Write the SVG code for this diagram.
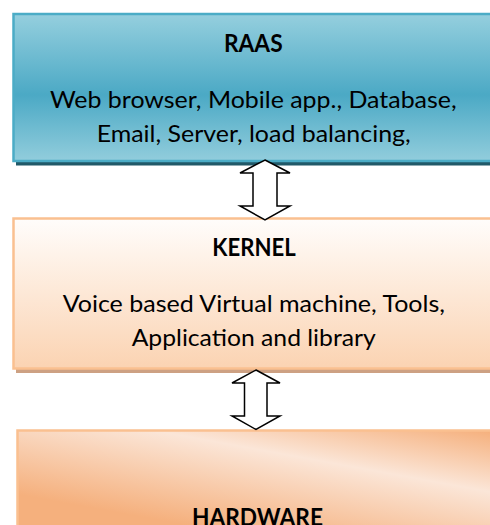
<svg xmlns="http://www.w3.org/2000/svg" width="490" height="525" viewBox="0 0 490 525">
  <defs>
    <linearGradient id="gRaas" x1="0" y1="0" x2="0" y2="1">
      <stop offset="0" stop-color="#95cfde"/>
      <stop offset="0.55" stop-color="#4ba9c5"/>
      <stop offset="1" stop-color="#92cddc"/>
    </linearGradient>
    <linearGradient id="gKernel" x1="0" y1="0" x2="0" y2="1">
      <stop offset="0" stop-color="#fffdfb"/>
      <stop offset="1" stop-color="#fbd3b2"/>
    </linearGradient>
    <linearGradient id="gHw" gradientUnits="userSpaceOnUse" x1="262" y1="386" x2="235" y2="534">
      <stop offset="0" stop-color="#f5ad78"/>
      <stop offset="0.42" stop-color="#fbe6d8"/>
      <stop offset="1" stop-color="#f5b07d"/>
    </linearGradient>
    <style>
      .title { font-family: Lato, "Liberation Sans", sans-serif; font-weight: bold; font-size: 24px; fill: #000; text-anchor: middle; }
      .body { font-family: Lato, "Liberation Sans", sans-serif; font-size: 24px; fill: #000; text-anchor: middle; }
      .arrow { fill: #ffffff; stroke: #000; stroke-width: 1.5; stroke-linejoin: miter; }
    </style>
  </defs>

  <rect width="490" height="525" fill="#ffffff"/>

  <g id="raas">
    <rect x="16" y="18" width="480" height="147.5" fill="#215968"/>
    <rect x="13.5" y="14" width="480" height="147" fill="url(#gRaas)" stroke="#4bacc6" stroke-width="2.5"/>
    <text class="title" x="253.3" y="52" textLength="58.7" lengthAdjust="spacingAndGlyphs">RAAS</text>
    <text class="body" x="253.3" y="108" textLength="406.7" lengthAdjust="spacingAndGlyphs">Web browser, Mobile app., Database,</text>
    <text class="body" x="253.7" y="142" textLength="314" lengthAdjust="spacingAndGlyphs">Email, Server, load balancing,</text>
  </g>

  <g id="kernel">
    <rect x="16" y="222" width="480" height="151" fill="#cda183"/>
    <rect x="13.5" y="218.5" width="480" height="150" fill="url(#gKernel)" stroke="#fac090" stroke-width="2.5"/>
    <text class="title" x="254" y="256" textLength="83.4" lengthAdjust="spacingAndGlyphs">KERNEL</text>
    <text class="body" x="253.8" y="312" textLength="382.3" lengthAdjust="spacingAndGlyphs">Voice based Virtual machine, Tools,</text>
    <text class="body" x="253.7" y="346" textLength="244" lengthAdjust="spacingAndGlyphs">Application and library</text>
  </g>

  <g id="hardware">
    <rect x="17.5" y="430.5" width="480" height="110" fill="url(#gHw)" stroke="#fac090" stroke-width="2.5"/>
    <text class="title" x="257.5" y="526" textLength="131" lengthAdjust="spacingAndGlyphs">HARDWARE</text>
  </g>

  <g id="connectors">
    <path class="arrow" d="M265,160 L290,173 L277,173 L277,206 L290,206 L265,220 L240,206 L253,206 L253,173 L240,173 Z"/>
    <path class="arrow" d="M256,370 L280,383 L267,383 L267,416 L280,416 L256,429.5 L232,416 L244.5,416 L244.5,383 L232,383 Z"/>
  </g>
</svg>
